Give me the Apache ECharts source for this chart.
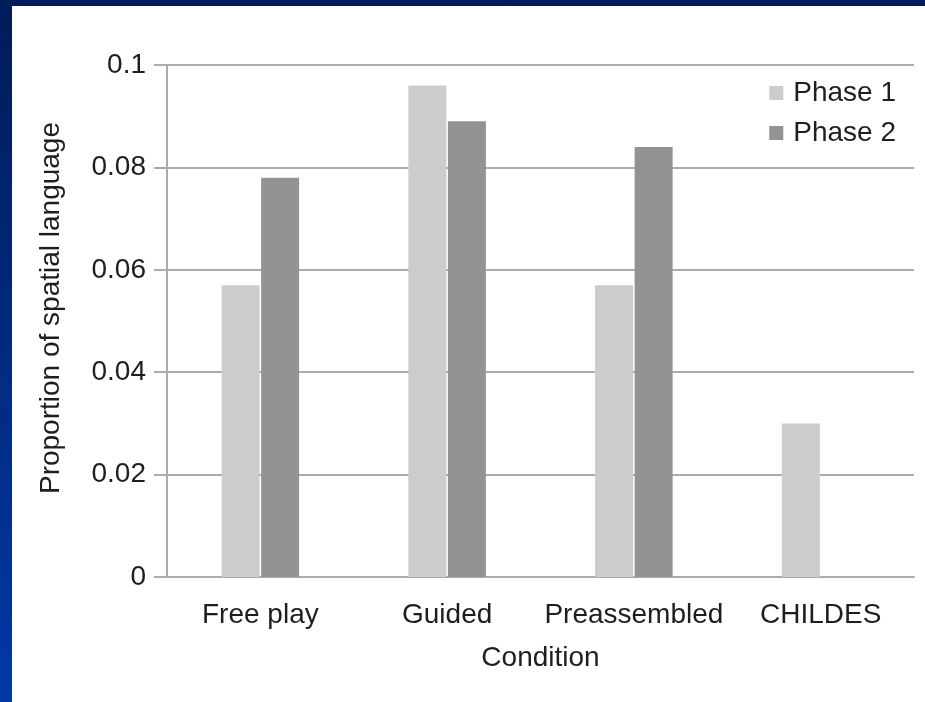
<!DOCTYPE html>
<html>
<head>
<meta charset="utf-8">
<script src="https://cdn.jsdelivr.net/npm/echarts@6/dist/echarts.min.js"></script>
<style>
	html, body { margin: 0; padding: 0; width: 925px; height: 702px; overflow: hidden; }
	body { background: linear-gradient(to bottom, #001c58, #0038a6); position: relative; }
	#main { position: absolute; left: 12px; top: 6px; width: 913px; height: 696px; background: #fff; }
</style>
</head>
<body>
<div id="main"></div>
<script>
// 数据
const categories = ["Free play", "Guided", "Preassembled", "CHILDES"];
const phase1 = [0.057, 0.096, 0.057, 0.030];
const phase2 = [0.078, 0.089, 0.084, null]; // CHILDES 没有第二阶段
const yTickLabels = ["0", "0.02", "0.04", "0.06", "0.08", "0.1"];

const font = "'Liberation Sans', Arial, Helvetica, sans-serif";
const textColor = "#1e1e1e";
const lineColor = "#ababab";

const mychart = echarts.init(document.getElementById("main"));

const option = {
	animation: false,
	textStyle: { fontFamily: font },
	grid: { left: 155, right: 11, top: 59, bottom: 125 },
	legend: {
		orient: "vertical",
		right: 24,
		top: 68,
		icon: "rect",
		itemWidth: 14,
		itemHeight: 14,
		itemGap: 12,
		textStyle: { fontFamily: font, fontSize: 28, color: textColor, padding: [0, 0, 0, 5] },
		data: ["Phase 1", "Phase 2"]
	},
	xAxis: {
		type: "category",
		data: categories,
		name: "Condition",
		nameLocation: "middle",
		nameGap: 67,
		nameTextStyle: { fontFamily: font, fontSize: 28, color: textColor },
		axisLine: { show: true, lineStyle: { color: lineColor, width: 2 } },
		axisTick: { show: false },
		axisLabel: { interval: 0, margin: 24, fontFamily: font, fontSize: 28, color: textColor }
	},
	yAxis: {
		type: "value",
		min: 0,
		max: 0.1,
		interval: 0.02,
		name: "Proportion of spatial language",
		nameLocation: "middle",
		nameGap: 102,
		nameTextStyle: { fontFamily: font, fontSize: 28, color: textColor, padding: [0, 0, 0, 26] },
		axisLine: { show: true, lineStyle: { color: lineColor, width: 2 } },
		axisTick: { show: true, inside: false, length: 13, lineStyle: { color: lineColor, width: 2 } },
		axisLabel: {
			margin: 21,
			fontFamily: font,
			fontSize: 28,
			color: textColor,
			formatter: (value, index) => yTickLabels[index]
		},
		splitLine: { lineStyle: { color: lineColor, width: 2 } }
	},
	series: [
		{
			name: "Phase 1",
			type: "bar",
			data: phase1,
			barWidth: 38,
			barGap: "4%",
			itemStyle: { color: "#cbccce" }
		},
		{
			name: "Phase 2",
			type: "bar",
			data: phase2,
			barWidth: 38,
			barGap: "4%",
			itemStyle: { color: "#939393" }
		}
	]
};

mychart.setOption(option);
</script>
</body>
</html>
